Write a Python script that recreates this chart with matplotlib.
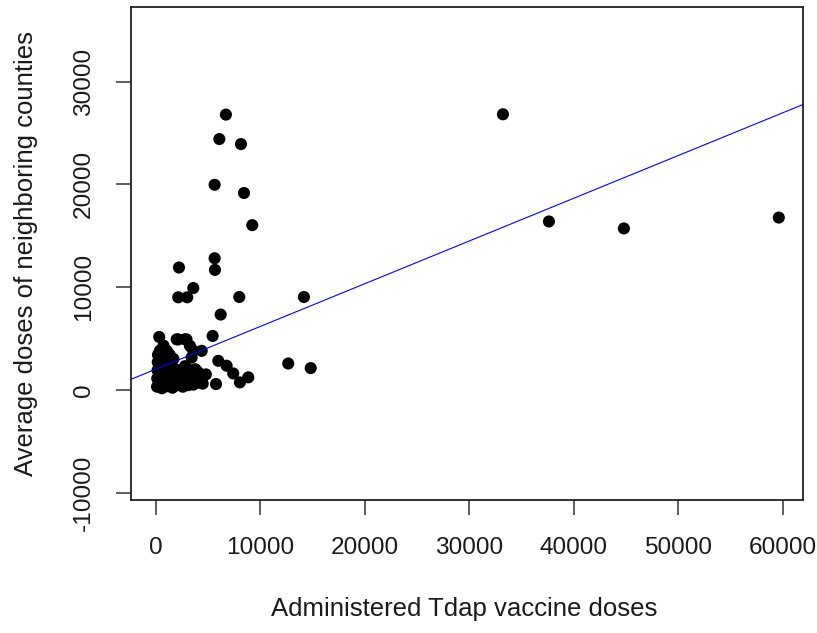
import matplotlib
matplotlib.use("Agg")
import matplotlib.pyplot as plt
import numpy as np

# Administered Tdap vaccine doses (x) and average doses of neighboring counties (y)
doses_x = [
    33220, 37620, 44790, 59610,
    6720, 6090, 8160, 5640, 8450, 9240, 5640, 5670, 2230, 3600, 2160, 3020,
    8000, 14180, 6220, 340, 5450, 2010, 2800, 3280, 4400, 3440, 5990, 6790,
    7420, 8860, 8060, 5770, 12680, 14830, 4080,
    130, 150, 180, 200, 220,
    600, 650, 700, 650, 700, 750,
    1100, 1100, 1150, 1050, 1100,
    1600, 1600, 1650, 1550, 1700,
    2100, 2150, 2050, 2600, 2700, 2600,
    3100, 3200, 3000, 3600, 3500, 3600,
    4100, 4500, 4800, 1050, 2950, 2150,
    400, 900, 1350, 1850, 2350, 400, 900, 1350, 1850, 2350,
    400, 900, 1350, 1850, 400, 900, 1350, 400, 900, 1350,
    3300, 3900, 4300, 2800, 3800,
]
neighbor_y = [
    26810, 16380, 15700, 16760,
    26780, 24400, 23910, 19950, 19150, 16020, 12800, 11670, 11900, 9900, 9000, 9000,
    9030, 9030, 7320, 5140, 5240, 4910, 4910, 4270, 3790, 3140, 2820, 2340,
    1590, 1210, 720, 560, 2560, 2110, 1690,
    300, 1100, 1900, 2700, 3400,
    150, 800, 1600, 2400, 3200, 4300,
    350, 1100, 1900, 2700, 3700,
    200, 900, 1600, 2300, 3000,
    450, 1200, 1900, 300, 1000, 1700,
    450, 1250, 2100, 500, 1300, 3800,
    700, 600, 1500, 3800, 4900, 4900,
    600, 500, 600, 700, 600, 1500, 1400, 1300, 1400, 1300,
    2300, 2200, 2100, 2000, 3000, 2900, 2800, 3800, 3600, 3400,
    1800, 1100, 1300, 2300, 2000,
]

# fitted regression line (intercept, slope)
fit_intercept = 2000
fit_slope = 0.416

x_ticks = [0, 10000, 20000, 30000, 40000, 50000, 60000]
y_ticks = [-10000, 0, 10000, 20000, 30000]
x_limits = (-2360, 61925)
y_limits = (-10725, 37250)

plt.rcParams['font.family'] = ['Liberation Sans', 'DejaVu Sans']

W, H = 817, 633
fig = plt.figure(figsize=(W / 100, H / 100), dpi=100)
ax = fig.add_axes([131 / W, 1 - 500 / H, 672 / W, 493 / H])

ax.scatter(doses_x, neighbor_y, s=76, c='black', edgecolors='none', zorder=3)
xl = np.array(x_limits)
ax.plot(xl, fit_intercept + fit_slope * xl, color='#0000ff', lw=0.8, zorder=4)

ax.set_xlim(*x_limits)
ax.set_ylim(*y_limits)
ax.set_xticks(x_ticks)
ax.set_yticks(y_ticks)
ax.set_xticklabels([str(v) for v in x_ticks])
ax.set_yticklabels([str(v) for v in y_ticks], rotation=90, va='center')

for sp in ax.spines.values():
    sp.set_linewidth(1.3)
    sp.set_color('#222222')

FS = 18.5
TFS = 17.6
ax.tick_params(axis='both', length=10.8, width=1.1, color='#333333',
               labelsize=TFS, labelcolor='#1a1a1a')
ax.tick_params(axis='x', pad=15.5)
ax.tick_params(axis='y', pad=15)

ax.set_xlabel('Administered Tdap vaccine doses', fontsize=FS, color='#1a1a1a')
ax.set_ylabel('Average doses of neighboring counties', fontsize=FS, color='#1a1a1a')
ax.xaxis.set_label_coords(0.5 - 3 / 672, -(597 - 500) / 493)
ax.yaxis.set_label_coords(-(131 - 38) / 672, 0.5 + ((500 - 493 / 2) - 253) / 493)

fig.savefig('out.png', dpi=100, facecolor='white')
